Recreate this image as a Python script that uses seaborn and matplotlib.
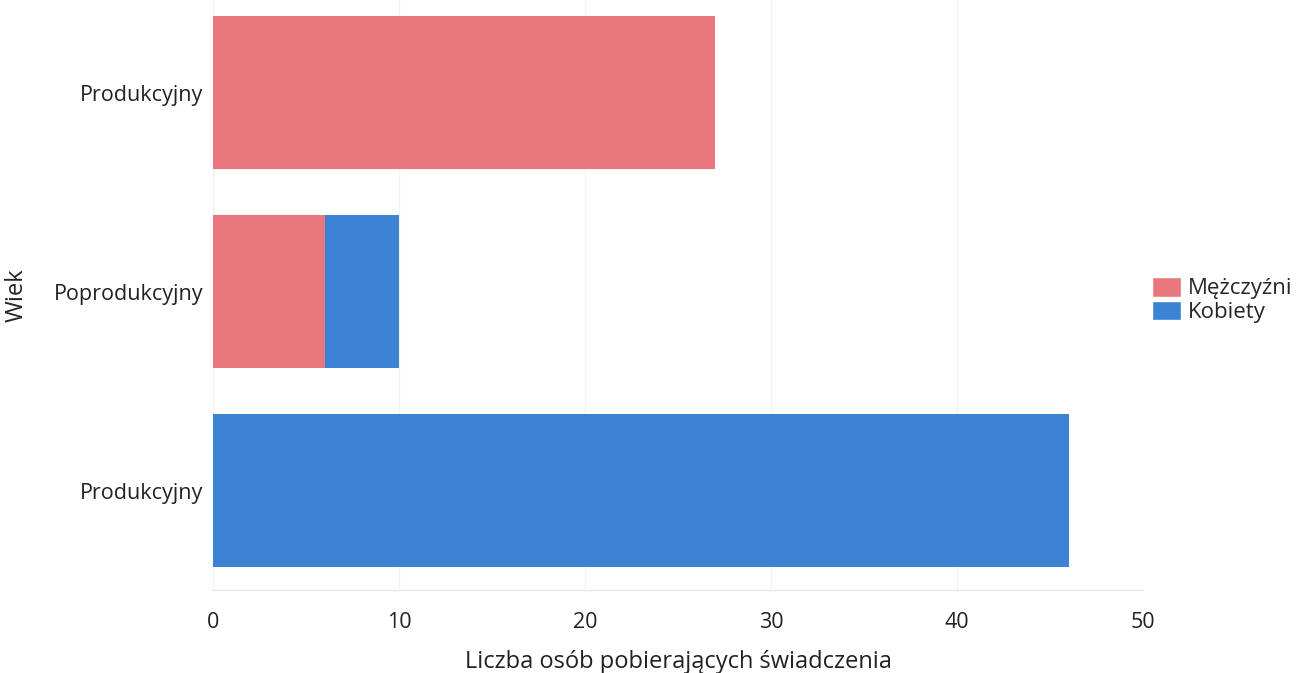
import matplotlib
matplotlib.use("Agg")
import matplotlib.pyplot as plt
import seaborn as sns
import pandas as pd
from matplotlib.patches import Patch

categories = ["Produkcyjny", "Poprodukcyjny", "Produkcyjny"]
men = [27, 6, 0]
women = [0, 4, 46]
x_ticks = [0, 10, 20, 30, 40, 50]

RED = "#e8777e"
BLUE = "#3c83d3"

sns.set_theme(style="white")
plt.rcParams['font.family'] = ['Open Sans', 'DejaVu Sans']

keys = [str(i) for i in range(len(categories))]
df = pd.DataFrame({"key": keys, "men": men, "women": women})
df["total"] = df["men"] + df["women"]

W, H = 1311, 673
fig = plt.figure(figsize=(W / 100, H / 100), dpi=100)
ax = fig.add_axes([213 / W, (H - 590) / H, (1143 - 213) / W, 590 / H])

sns.barplot(data=df, y="key", x="total", orient="h", color=BLUE,
            width=0.77, saturation=1, ax=ax, linewidth=0)
sns.barplot(data=df, y="key", x="men", orient="h", color=RED,
            width=0.77, saturation=1, ax=ax, linewidth=0)

ax.set_xlim(0, 50)
ax.set_ylim(2.5, -0.465)
ax.set_xticks(x_ticks)
ax.set_xticklabels([str(t) for t in x_ticks], fontsize=15.5, color="#222222")
ax.set_yticks(range(len(categories)))
ax.set_yticklabels(categories, fontsize=15.5, color="#222222")
ax.tick_params(axis="x", length=0, pad=16)
ax.tick_params(axis="y", length=0, pad=7)
ax.set_xlabel("Liczba osób pobierających świadczenia", fontsize=17,
              color="#222222", labelpad=12)
ax.set_ylabel("Wiek", fontsize=17, color="#222222", labelpad=18)

ax.xaxis.grid(True, color="#f4f4f4", linewidth=1)
ax.set_axisbelow(True)
for s in ["top", "right", "left"]:
    ax.spines[s].set_visible(False)
ax.spines["bottom"].set_color("#e6e6e6")
ax.spines["bottom"].set_linewidth(1)

handles = [Patch(facecolor=RED, label="Mężczyźni"),
           Patch(facecolor=BLUE, label="Kobiety")]
fig.legend(handles=handles, loc="center left",
           bbox_to_anchor=(1143 / W, 1 - 300 / H), frameon=False,
           fontsize=16, handlelength=1.3, handleheight=1.0,
           handletextpad=0.3, labelspacing=0.05, borderaxespad=0)

fig.savefig("out.png", dpi=100)
